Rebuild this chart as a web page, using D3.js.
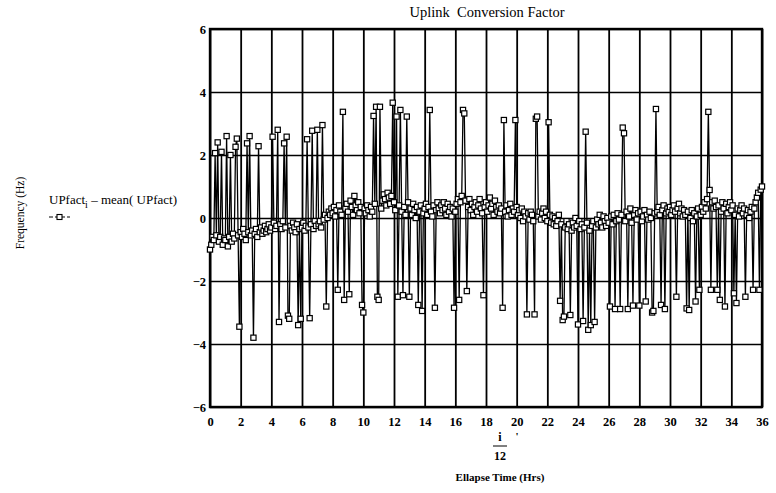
<!DOCTYPE html>
<html>
<head>
<meta charset="utf-8">
<title>Uplink Conversion Factor</title>
<script src="https://d3js.org/d3.v7.min.js"></script>
<style>
  body { margin: 0; background: #fff; }
  svg { font-family: "Liberation Serif", "Times New Roman", serif; }
</style>
</head>
<body>
<script>
// tick values for both axes
var xTicks = [0, 2, 4, 6, 8, 10, 12, 14, 16, 18, 20, 22, 24, 26, 28, 30, 32, 34, 36];
var yTicks = [-6, -4, -2, 0, 2, 4, 6];

// UPfact_i - mean(UPfact), one sample every 5 minutes (x = i/12 hours)
var upDev = [
  -1.0, -0.85, -0.6, -0.7, 2.06, -0.55, 2.4, -0.75, -0.6, 2.1, -0.85, -0.65,
  -0.7, 2.6, -0.9, -0.6, 2.0, -0.75, -0.5, -0.65, 2.26, 2.52, -0.55, -3.45,
  -0.45, -0.6, -0.35, -0.5, -0.7, 2.37, -0.45, 2.6, -0.55, -0.4, -3.8, -0.5,
  -0.35, -0.6, 2.28, -0.45, -0.3, -0.5, -0.4, -0.25, -0.45, -0.35, -0.2, -0.4,
  -0.3, 2.58, -0.15, -0.35, -0.25, 2.8, -3.3, -0.2, -0.35, -0.1, 2.37, -0.3,
  2.58, -3.1, -3.2, -0.25, -0.4, -0.15, -0.3, -0.45, -0.2, -3.4, -0.35, -3.2,
  -0.3, -0.15, -0.4, -0.25, 2.5, -0.3, -3.18, -0.2, 2.77, -0.35, -0.1, -0.25,
  2.8, -0.2, -0.1, -0.3, 2.95, -0.05, 0.1, -2.81, 0.0, 0.2, 0.1, 0.3,
  0.15, 0.35, 0.05, 0.25, -2.28, 0.4, 0.2, 0.1, 3.37, -2.6, 0.3, 0.45,
  0.2, -2.42, 0.55, 0.35, 0.1, 0.7, 0.4, 0.25, 0.5, 0.15, 0.35, -2.76,
  -3.0, 0.3, 0.15, 0.4, 0.25, 0.05, 0.35, 0.2, 3.24, 0.45, 3.53, -2.5,
  -2.6, 3.53, 0.3, 0.55, 0.75, 0.6, 0.4, 0.8, 0.65, 0.45, 0.7, 3.66,
  0.5, 0.25, 3.22, -2.5, 0.4, 3.43, 0.2, -2.45, 0.35, 0.1, 3.22, 0.5,
  -2.5, 0.3, 0.1, 0.45, 0.25, 0.0, 0.35, -2.76, 0.2, 0.4, -2.95, 0.15,
  0.3, 0.45, 0.1, 0.35, 3.43, 0.2, 0.05, 0.4, -2.85, 0.25, 0.5, 0.3,
  0.15, 0.4, 0.25, 0.5, 0.3, 0.1, 0.45, 0.2, 0.35, 0.05, 0.3, -2.85,
  0.2, 0.45, 0.6, -2.6, 0.5, 0.7, 3.43, 3.32, 0.55, -2.32, 0.35, 0.6,
  0.25, 0.45, 0.1, 0.35, 0.5, 0.2, 0.4, 0.6, 0.3, 0.15, -2.45, 0.35,
  0.5, 0.2, 0.4, 0.65, 0.3, 0.45, 0.1, 0.55, 0.35, 0.2, 0.4, 0.15,
  0.3, -2.85, 3.11, 0.2, 0.4, 0.05, 0.25, 0.45, 0.1, 0.3, 0.2, 3.11,
  0.35, 0.1, 0.25, 0.0, 0.3, -0.1, 0.2, 0.05, -3.06, 0.15, -0.05, 0.2,
  0.1, -0.1, -3.06, 3.15, 3.22, 0.05, 0.2, -0.05, 0.15, 0.3, 0.0, 0.2,
  -0.1, 3.04, 0.1, -0.15, 0.05, -0.2, 0.0, -0.25, -0.1, 0.1, -2.63, -0.2,
  -3.24, -3.13, -0.3, -0.1, -0.35, -0.2, -3.08, -0.4, -0.15, -0.3, 0.0, -0.25,
  -3.38, -0.1, -0.35, -0.2, -3.27, -0.3, 2.74, -0.15, -3.55, -0.4, -3.4, -0.25,
  -0.1, -3.3, -0.3, -0.05, -0.2, 0.1, -0.15, -0.3, 0.05, -0.1, -0.25, 0.0,
  -0.15, -2.81, 0.05, -0.2, 0.1, -2.89, -0.1, 0.15, -0.05, -2.89, 0.1, 2.87,
  2.69, -0.1, 0.2, -2.89, 0.05, 0.3, -0.15, -2.78, 0.1, 0.25, -0.05, 0.15,
  -2.78, 0.2, -0.1, 0.05, 0.25, -2.65, 0.1, -0.05, 0.2, 0.0, -3.0, -2.95,
  0.15, 3.46, 0.2, 0.35, 0.1, -2.76, 0.25, 0.4, -2.89, 0.15, 0.3, 0.2,
  0.35, 0.1, 0.25, 0.4, 0.2, -2.5, 0.3, 0.45, 0.15, 0.3, 0.05, 0.25,
  0.1, -2.87, 0.2, -2.92, 0.0, 0.25, -0.1, 0.15, -2.65, 0.05, 0.3, -2.28,
  0.1, 0.35, 0.2, 0.5, 0.3, 0.6, 3.37, 0.89, -2.28, 0.5, 0.3, 0.55,
  0.35, -2.28, 0.4, -2.6, 0.2, 0.5, 0.3, -2.81, 0.45, 0.15, 0.35, 0.5,
  0.25, 0.4, -2.39, 0.1, -2.7, 0.3, 0.05, 0.25, 0.4, 0.15, 0.3, -2.5,
  0.1, 0.25, 0.0, 0.2, 0.35, -2.28, 0.3, 0.5, 0.65, 0.8, -2.28, 0.9,
  1.0
];

var width = 776, height = 493;
var plot = {left: 210, right: 762, top: 29, bottom: 407};

var svg = d3.select("body").append("svg")
    .attr("width", width)
    .attr("height", height);

var x = d3.scaleLinear().domain([0, 36]).range([plot.left, plot.right]);
var y = d3.scaleLinear().domain([-6, 6]).range([plot.bottom, plot.top]);

// vertical grid + x tick labels
var gx = svg.append("g")
    .attr("transform", "translate(0," + plot.bottom + ")")
    .call(d3.axisBottom(x)
      .tickValues(xTicks)
      .tickSize(-(plot.bottom - plot.top))
      .tickPadding(10)
      .tickFormat(d3.format("d")));
gx.select(".domain").remove();
gx.selectAll("line").attr("stroke", "#000").attr("stroke-width", 1.8);
gx.selectAll("text")
    .attr("font-family", "Liberation Serif, serif")
    .attr("font-size", 12.5)
    .attr("font-weight", "bold")
    .attr("fill", "#000");

// horizontal grid + y tick labels
var gy = svg.append("g")
    .attr("transform", "translate(" + plot.left + ",0)")
    .call(d3.axisLeft(y)
      .tickValues(yTicks)
      .tickSize(-(plot.right - plot.left))
      .tickPadding(4)
      .tickFormat(function(d) { return d < 0 ? "\u2212" + (-d) : d; }));
gy.select(".domain").remove();
gy.selectAll("line").attr("stroke", "#000").attr("stroke-width", 1.5);
gy.selectAll("text")
    .attr("font-family", "Liberation Serif, serif")
    .attr("font-size", 12.5)
    .attr("font-weight", "bold")
    .attr("fill", "#000");

// frame
svg.append("rect")
    .attr("x", plot.left)
    .attr("y", plot.top)
    .attr("width", plot.right - plot.left)
    .attr("height", plot.bottom - plot.top)
    .attr("fill", "none")
    .attr("stroke", "#000")
    .attr("stroke-width", 2.4);

// data line
var line = d3.line()
    .x(function(d, i) { return x(i / 12); })
    .y(function(d) { return y(d); });

svg.append("path")
    .datum(upDev)
    .attr("d", line)
    .attr("fill", "none")
    .attr("stroke", "#000")
    .attr("stroke-width", 1.3);

// square markers
svg.append("g").selectAll("rect")
    .data(upDev)
    .enter()
    .append("rect")
      .attr("x", function(d, i) { return x(i / 12) - 2.6; })
      .attr("y", function(d) { return y(d) - 2.6; })
      .attr("width", 5.2)
      .attr("height", 5.2)
      .attr("fill", "#fff")
      .attr("stroke", "#000")
      .attr("stroke-width", 1.2);

// title
svg.append("text")
    .attr("x", 487)
    .attr("y", 17)
    .attr("text-anchor", "middle")
    .attr("font-size", 14.5)
    .style("white-space", "pre")
    .text("Uplink  Conversion Factor");

// y axis label
svg.append("text")
    .attr("transform", "translate(24,213) rotate(-90)")
    .attr("text-anchor", "middle")
    .attr("font-size", 11.5)
    .text("Frequency (Hz)");

// legend
var leg = svg.append("text")
    .attr("x", 49)
    .attr("y", 204)
    .attr("font-size", 13);
leg.append("tspan").text("UPfact");
leg.append("tspan").attr("dy", 4).attr("font-size", 10).text("i");
leg.append("tspan").attr("dy", -4).text(" \u2013 mean( UPfact)");

svg.append("line")
    .attr("x1", 49).attr("x2", 70)
    .attr("y1", 217).attr("y2", 217)
    .attr("stroke", "#000")
    .attr("stroke-width", 1)
    .attr("stroke-dasharray", "4,2");
svg.append("rect")
    .attr("x", 57).attr("y", 214.5)
    .attr("width", 5).attr("height", 5)
    .attr("fill", "#fff")
    .attr("stroke", "#000")
    .attr("stroke-width", 1.1);

// x axis label: i / 12
svg.append("text")
    .attr("x", 500).attr("y", 441)
    .attr("text-anchor", "middle")
    .attr("font-size", 12)
    .attr("font-weight", "bold")
    .text("i");
svg.append("line")
    .attr("x1", 493).attr("x2", 507)
    .attr("y1", 446).attr("y2", 446)
    .attr("stroke", "#000")
    .attr("stroke-width", 1);
svg.append("text")
    .attr("x", 500).attr("y", 460)
    .attr("text-anchor", "middle")
    .attr("font-size", 12)
    .attr("font-weight", "bold")
    .text("12");
svg.append("text")
    .attr("x", 517).attr("y", 440)
    .attr("text-anchor", "middle")
    .attr("font-size", 11)
    .attr("font-weight", "bold")
    .text("'");
svg.append("text")
    .attr("x", 500).attr("y", 481)
    .attr("text-anchor", "middle")
    .attr("font-size", 11)
    .attr("font-weight", "bold")
    .text("Ellapse Time (Hrs)");
</script>
</body>
</html>
